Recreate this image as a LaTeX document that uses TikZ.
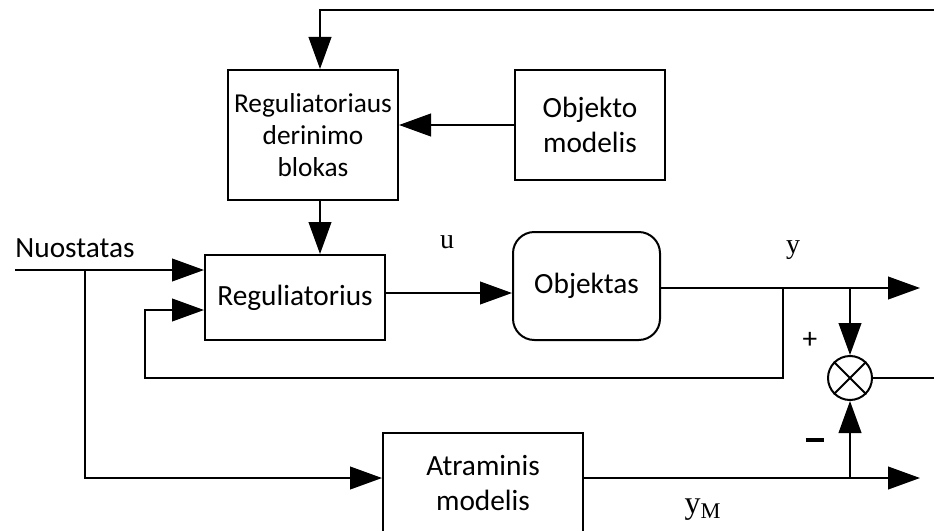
\documentclass[tikz,border=0pt]{standalone}
\usepackage{fontspec}
\setmainfont{Carlito}
\newfontfamily\serifl{Liberation Serif}
\usetikzlibrary{arrows.meta}
\begin{document}
\begin{tikzpicture}[x=0.75pt,y=-0.75pt,
  line width=1.5pt,
  arr/.style={-{Triangle[length=24pt,width=17pt]}},
  blk/.style={draw,line width=1.5pt,align=center,inner sep=0pt,font=\fontsize{22}{26}\selectfont},
  lbl/.style={font=\serifl\fontsize{21}{24}\selectfont,inner sep=0pt}]
\clip (0,0) rectangle (934,531);
\fill[white] (0,0) rectangle (934,531);
% blocks
\node[blk,minimum width=127.5pt,minimum height=97.5pt,font=\fontsize{20.5}{24}\selectfont] (der) at (313,135) {Reguliatoriaus\\derinimo\\blokas};
\node[blk,minimum width=112.5pt,minimum height=82.5pt] (om) at (590,125) {Objekto\\modelis};
\node[blk,minimum width=135pt,minimum height=63.75pt] (reg) at (295,297.5) {Reguliatorius};
\node[blk,rounded corners=16pt,minimum width=110.25pt,minimum height=81pt] (obj) at (586.5,286) {Objektas};
\node[blk,minimum width=150pt,minimum height=75pt] (atr) at (483,483) {Atraminis\\modelis};
\node[draw,circle,line width=1.5pt,minimum size=33pt,inner sep=0pt] (sum) at (850,378) {};
\draw[line width=1.5pt] (sum.north west) -- (sum.south east) (sum.north east) -- (sum.south west);
% labels
\node[font=\fontsize{22}{26}\selectfont,inner sep=0pt] (nl) at (75,248) {Nuostatas};
\node[lbl] (ul) at (447,242) {u};
\node[lbl] (yl) at (793,250) {y};
\node[lbl,font=\serifl\fontsize{24}{28}\selectfont] (yml) at (703,510) {y\textsubscript{M}};
\node[font=\fontsize{22}{26}\selectfont,inner sep=0pt] (pl) at (810,340) {+};
\node[inner sep=0pt] (ml) at (815,440) {\rule{14pt}{3.5pt}};
% coordinates
\coordinate (tR) at (934,10);
\coordinate (t1) at (320,10);
\coordinate (n0) at (15,270);
\coordinate (b1) at (85,270);
\coordinate (b2) at (85,478);
\coordinate (u0) at (385,293);
\coordinate (f1) at (783,288);
\coordinate (f2) at (783,378);
\coordinate (f3) at (145,378);
\coordinate (f4) at (145,310);
\coordinate (yE) at (920,288);
\coordinate (s1) at (850,288);
\coordinate (s2) at (850,478);
\coordinate (ymE) at (920,478);
\coordinate (sE) at (934,378);
% connectors
\draw[arr] (tR) -- (t1) -- (t1 |- der.north);
\draw[arr] (om.west) -- (om.west -| der.east);
\draw[arr] (t1 |- der.south) -- (t1 |- reg.north);
\draw[arr] (n0) -- (n0 -| reg.west);
\draw[arr] (b1) -- (b2) -- (b2 -| atr.west);
\draw[arr] (f1) -- (f2) -- (f3) -- (f4) -- (f4 -| reg.west);
\draw[arr] (u0 -| reg.east) -- (u0 -| obj.west);
\draw[arr] (f1 -| obj.east) -- (yE);
\draw[arr] (s1) -- (sum.north);
\draw[arr] (b2 -| atr.east) -- (ymE);
\draw[arr] (s2) -- (sum.south);
\draw (sum.east) -- (sE);
\end{tikzpicture}
\end{document}
